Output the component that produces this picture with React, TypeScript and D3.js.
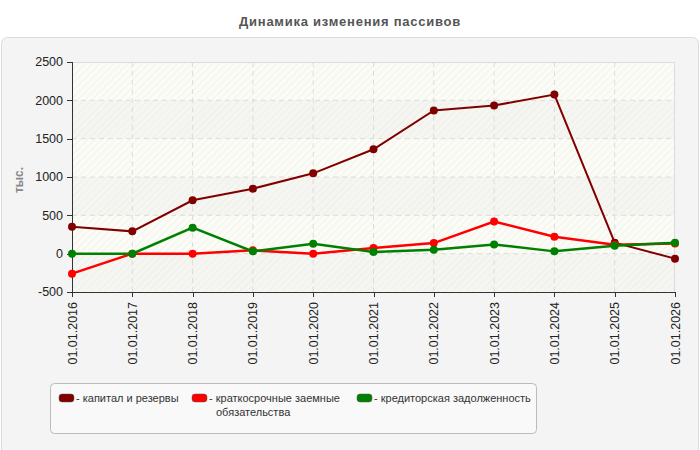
import * as d3 from 'd3'

// Data
const dates = [
  '01.01.2016', '01.01.2017', '01.01.2018', '01.01.2019', '01.01.2020', '01.01.2021',
  '01.01.2022', '01.01.2023', '01.01.2024', '01.01.2025', '01.01.2026',
]
const capital = [352, 291, 696, 848, 1048, 1362, 1867, 1932, 2076, 144, -65]
const shortLoans = [-261, 0, 0, 43, 0, 73, 138, 418, 222, 117, 134]
const payables = [0, 0, 339, 30, 130, 21, 52, 121, 30, 104, 143]
const yTicks = [-500, 0, 500, 1000, 1500, 2000, 2500]

const series = [
  { name: 'капитал и резервы', lines: ['капитал и резервы'], values: capital, color: '#800000', width: 2 },
  { name: 'краткосрочные заемные обязательства', lines: ['краткосрочные заемные', 'обязательства'], values: shortLoans, color: '#ff0000', width: 2.5 },
  { name: 'кредиторская задолженность', lines: ['кредиторская задолженность'], values: payables, color: '#008000', width: 2.5 },
]

const W = 700
const H = 450
const margin = { left: 72, right: 25, top: 62, bottom: 158 }
const font = '"Liberation Sans", Arial, sans-serif'

export default function App() {
  const x = d3
    .scalePoint<string>()
    .domain(dates)
    .range([margin.left, W - margin.right])
  const y = d3
    .scaleLinear()
    .domain([-500, 2500])
    .range([H - margin.bottom, margin.top])

  const line = d3
    .line<number>()
    .x((_, i) => x(dates[i]) || 0)
    .y((d) => y(d))

  const plotL = margin.left
  const plotR = W - margin.right
  const plotT = margin.top
  const plotB = H - margin.bottom

  // alternating bands between ticks, darker ones every other band from the top
  const bands = d3.pairs(yTicks).map(([a, b], i) => ({ a, b, dark: i % 2 === 0 }))

  const legendX = [59, 192, 357]

  return (
    <svg
      width={W}
      height={H}
      style={{ position: 'absolute', left: 0, top: 0, fontFamily: font }}
    >
      <defs>
        <pattern id="hatch" width="5" height="5" patternUnits="userSpaceOnUse" patternTransform="rotate(45)">
          <rect width="5" height="5" fill="#fcfcf6" />
          <line x1="0" y1="0" x2="0" y2="5" stroke="#f0f0ec" strokeWidth="1.5" />
        </pattern>
      </defs>
      <rect x={0} y={0} width={W} height={H} fill="#fff" />
      <text x={W / 2} y={26} textAnchor="middle" fontSize={13} fontWeight="bold" fill="#555" letterSpacing={0.75}>
        Динамика изменения пассивов
      </text>
      {/* panel */}
      <rect x={1.5} y={37.5} width={697} height={420} rx={6} fill="#f4f4f4" stroke="#dcdcdc" />

      {/* plot background */}
      <rect x={plotL} y={plotT} width={plotR - plotL} height={plotB - plotT} fill="url(#hatch)" />
      {bands
        .filter((d) => d.dark)
        .map((d) => (
          <rect
            key={d.a}
            x={plotL}
            y={y(d.b)}
            width={plotR - plotL}
            height={y(d.a) - y(d.b)}
            fill="#e6e6e6"
            opacity={0.3}
          />
        ))}

      {/* grid */}
      {yTicks.slice(1, -1).map((t) => (
        <line key={t} x1={plotL} x2={plotR} y1={y(t)} y2={y(t)} stroke="#dcdcdc" strokeDasharray="5,4" />
      ))}
      {dates.slice(1, -1).map((d) => (
        <line key={d} x1={x(d)} x2={x(d)} y1={plotT} y2={plotB} stroke="#dcdcdc" strokeDasharray="5,4" />
      ))}
      <line x1={plotL} x2={plotR} y1={plotT + 0.5} y2={plotT + 0.5} stroke="#dcdcdc" />
      <line x1={plotR - 0.5} x2={plotR - 0.5} y1={plotT} y2={plotB} stroke="#dcdcdc" />

      {/* axes */}
      <line x1={plotL + 0.5} x2={plotL + 0.5} y1={plotT} y2={plotB} stroke="#333" />
      <line x1={plotL} x2={plotR} y1={plotB + 0.5} y2={plotB + 0.5} stroke="#333" />
      {yTicks.map((t) => (
        <g key={t}>
          <line x1={plotL - 5} x2={plotL} y1={Math.round(y(t)) + 0.5} y2={Math.round(y(t)) + 0.5} stroke="#333" />
          <text x={plotL - 9} y={y(t)} dy="0.35em" textAnchor="end" fontSize={12.5} fill="#222">
            {t}
          </text>
        </g>
      ))}
      {dates.map((d) => (
        <g key={d}>
          <line x1={Math.round(x(d) || 0) + 0.5} x2={Math.round(x(d) || 0) + 0.5} y1={plotB} y2={plotB + 5} stroke="#333" />
          <text
            transform={`translate(${(x(d) || 0) + 4.5},${plotB + 10}) rotate(-90)`}
            textAnchor="end"
            fontSize={12.5}
            fill="#222"
          >
            {d}
          </text>
        </g>
      ))}
      <text
        transform={`translate(23,${(plotT + plotB) / 2 + 3}) rotate(-90)`}
        textAnchor="middle"
        fontSize={12}
        fontWeight="bold"
        fill="#888"
      >
        тыс.
      </text>

      {/* series */}
      {series.map((s) => (
        <g key={s.name}>
          <path d={line(s.values) || ''} fill="none" stroke={s.color} strokeWidth={s.width} />
          {s.values.map((v, i) => (
            <circle key={i} cx={x(dates[i])} cy={y(v)} r={4} fill={s.color} />
          ))}
        </g>
      ))}

      {/* legend */}
      <rect x={50.5} y={383.5} width={486} height={50} rx={4} fill="#f9f9f9" stroke="#bbb" />
      {series.map((s, i) => (
        <g key={s.name}>
          <rect x={legendX[i]} y={394} width={15} height={8} rx={3} fill={s.color} stroke="#555" strokeWidth={0.5} />
          <text x={legendX[i] + 17} y={401.5} fontSize={11} fill="#333">
            {s.lines.map((l, j) => (
              <tspan key={j} x={legendX[i] + 17 + (j > 0 ? 7 : 0)} dy={j === 0 ? 0 : 14.5}>
                {j === 0 ? `- ${l}` : l}
              </tspan>
            ))}
          </text>
        </g>
      ))}
    </svg>
  )
}
